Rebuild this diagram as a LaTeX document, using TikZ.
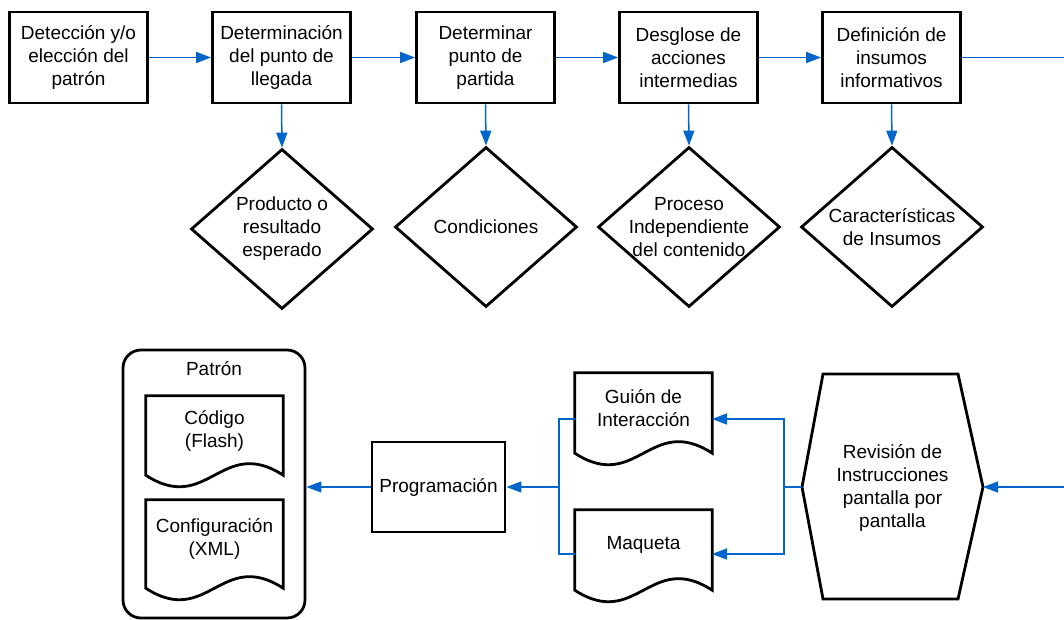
\documentclass[tikz,border=0pt]{standalone}
\usepackage{fontspec}
\setmainfont{Liberation Sans}
\usetikzlibrary{shapes.geometric,arrows.meta,calc}
\definecolor{conncol}{RGB}{0,102,204}
\newcommand{\mydocshape}[5]{%
  \node[docbox, minimum height={#4-#3}] (#1) at ({#2+68.5},{(#3+#4)/2}) {};
  \draw[outline] (#1.north west) -- (#1.north east) -- (#1.south east)
     .. controls +(-61.65,-40) and +(61.65,40) .. (#1.south west) -- cycle;
  \node at ($(#1.center)+(0,-5)$) {#5};
}
\begin{document}
\begin{tikzpicture}[x=1pt,y=-1pt,
  every node/.style={font=\fontsize{19}{23}\selectfont, align=center, inner sep=0pt},
  procbox/.style={draw, line width=2.8pt, minimum width=138pt, minimum height=91pt},
  dia/.style={draw, diamond, line width=2.8pt, minimum width=182pt, minimum height=160pt},
  docbox/.style={minimum width=137pt},
  outline/.style={line width=2.8pt, line join=miter},
  link/.style={draw=conncol, line width=1.5pt},
  arr/.style={link, -{Triangle[length=15pt,width=11pt]}}
]
\fill[white] (0,0) rectangle (1064,620);
\useasboundingbox (0,0) rectangle (1064,620);

% top row
\node[procbox] (b1) at (78.5,57.5) {Detección y/o\\elección del\\patrón};
\node[procbox] (b2) at (281.5,57.5) {Determinación\\del punto de\\llegada};
\node[procbox] (b3) at (485.5,57.5) {Determinar\\punto de\\partida};
\node[procbox] (b4) at (688.5,57.5) {Desglose de\\acciones\\intermedias};
\node[procbox] (b5) at (891.5,57.5) {Definición de\\insumos\\informativos};

% diamonds
\node[dia] (d1) at (282,229) {};
\node (d1t) at (d1) {Producto o\\resultado\\esperado};
\node[dia] (d2) at (486,227) {};
\node (d2t) at (d2) {Condiciones};
\node[dia] (d3) at (689,227) {};
\node (d3t) at (d3) {Proceso\\Independiente\\del contenido};
\node[dia] (d4) at (892,227) {};
\node (d4t) at (d4) {Características\\de Insumos};

% top connectors
\draw[arr] (b1.east) -- (b2.west);
\draw[arr] (b2.east) -- (b3.west);
\draw[arr] (b3.east) -- (b4.west);
\draw[arr] (b4.east) -- (b5.west);
\coordinate (eR) at (1064,57.5);
\draw[link] (b5.east) -- (eR);
\draw[arr] (b2.south) -- (d1.north);
\draw[arr] (b3.south) -- (d2.north);
\draw[arr] (b4.south) -- (d3.north);
\draw[arr] (b5.south) -- (d4.north);

% bottom: patron container
\node[draw, line width=2.8pt, rounded corners=18pt, minimum width=182pt, minimum height=268pt] (patron) at (214,484) {};
\node (patlbl) at (214,369) {Patrón};
\mydocshape{cod}{146}{396}{475}{Código\\(Flash)}
\mydocshape{conf}{146}{500}{588}{Configuración\\(XML)}

% programacion
\node[procbox, minimum width=133pt, minimum height=90pt] (prog) at (438.5,487) {Programación};

% guion and maqueta
\mydocshape{guion}{575}{373}{453}{Guión de\\Interacción}
\mydocshape{maq}{575}{510}{590}{Maqueta}

% hexagon
\coordinate (hexL) at (802,487);
\coordinate (hexR) at (983,487);
\draw[outline] (823,374) -- (958,374) -- (hexR) -- (958,599) -- (823,599) -- (hexL) -- cycle;
\node (hex) at (892.5,488) {Revisión de\\Instrucciones\\pantalla por\\pantalla};

% bottom connectors
\coordinate (eR2) at (1064,487);
\draw[arr] (eR2) -- (hexR);
\coordinate (jR) at (784,487);
\coordinate (gR) at (712,419);
\coordinate (mR) at (712,554);
\draw[link] (hexL) -- (jR);
\draw[arr] (jR) |- (gR);
\draw[arr] (jR) |- (mR);
\coordinate (gL) at (575,419);
\coordinate (mL) at (575,554);
\coordinate (jL) at (559,487);
\draw[link] (gL) -| (jL) |- (mL);
\draw[arr] (jL) -- (prog.east);
\draw[arr] (prog.west) -- (prog.west -| patron.east);
\end{tikzpicture}
\end{document}
